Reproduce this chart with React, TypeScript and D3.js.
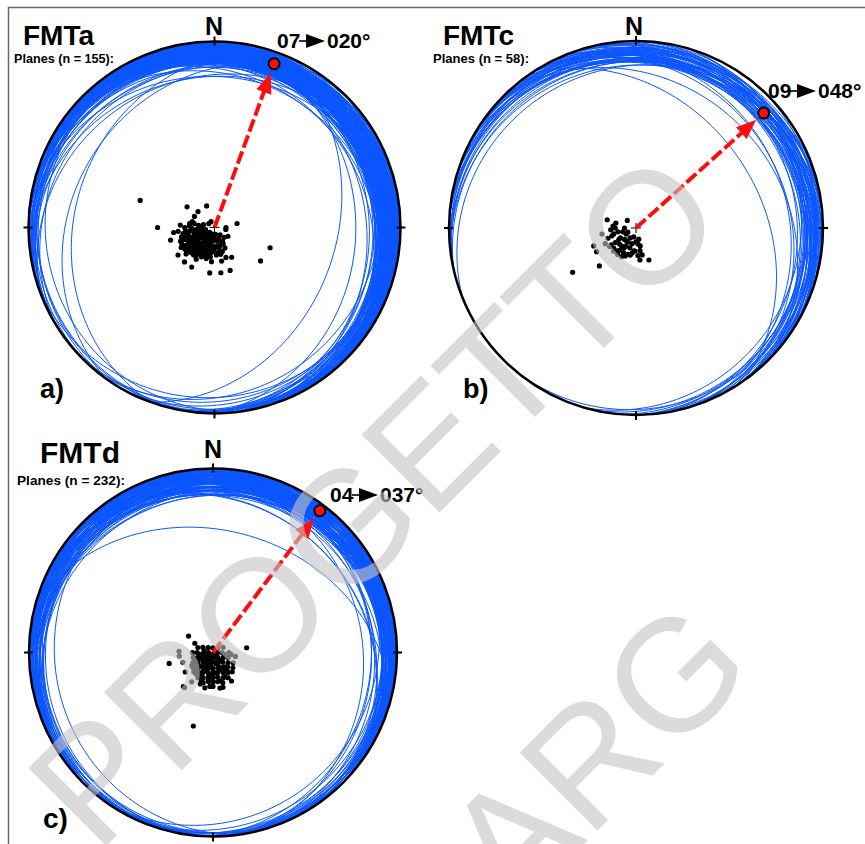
import React from "react";
import * as d3 from "d3";

// planes as [dip direction, dip] read from the pole clouds in each stereonet
const planesA: [number, number][] = [
  [110, 35], [90, 25], [127, 15], [160, 10], [134, 10], [119, 10], [260, 10], [290, 26], [306, 25], [6, 20],
  [352, 20], [340, 20], [30, 20], [41, 20], [5, 15], [348, 15], [339, 14], [330, 15], [83, 18], [74, 20],
  [94, 15], [150, 3], [270, 5], [303, 7], [30, 16], [53, 20],
  [81, 13], [67, 13], [54, 13], [43, 14], [68, 9], [52, 10], [37, 11], [25, 12], [68, 5], [39, 6],
  [21, 7], [10, 10], [18, 3], [0, 5], [354, 8], [351, 11], [323, 4], [330, 7], [333, 10], [94, 11],
  [101, 9], [90, 6], [104, 5], [63, 16], [54, 16], [33, 14], [15, 14], [356, 12], [67, 11], [76, 7],
  [56, 12], [34, 9], [16, 6], [40, 7], [47, 17], [14, 11], [55, 8], [45, 12], [62, 13], [74, 15],
  [342, 8], [315, 6], [280, 5], [76, 4], [39, 12], [81, 11], [20, 13], [32, 13], [6, 9], [342, 11],
  [90, 13], [105, 10], [124, 3], [84, 16],
  [60, 10], [41, 9], [20, 9], [49, 15], [71, 8], [27, 11], [17, 5], [74, 12], [38, 15], [56, 5],
  [98, 7], [59, 17], [348, 6], [11, 12], [88, 10], [56, 6], [58, 15], [45, 10], [55, 11], [29, 8],
  [33, 11], [56, 13], [9, 8], [347, 9], [72, 14], [80, 5], [38, 13], [54, 15], [30, 6], [62, 7],
  [79, 9], [45, 3], [332, 8], [24, 14], [68, 16], [2, 10], [42, 11], [64, 11], [40, 7], [99, 11],
  [84, 8], [37, 4], [47, 15], [29, 9], [8, 6], [36, 15], [68, 14], [28, 13], [20, 10], [48, 13],
  [53, 9], [82, 12], [0, 9], [338, 5], [63, 6], [43, 15], [8, 13], [79, 14], [45, 11], [347, 12],
  [20, 12], [67, 10], [34, 10], [61, 13], [17, 7], [32, 12], [75, 9], [14, 13], [50, 13], [353, 3],
  [48, 6], [50, 16], [37, 12], [7, 11], [64, 12],
];

const planesB: [number, number][] = [
  [106, 13], [104, 9], [131, 5], [353, 14], [338, 15], [80, 15], [67, 20], [59, 20], [63, 15], [44, 14],
  [44, 23], [55, 34], [21, 13], [3, 10], [346, 5], [347, 8],
  [86, 11], [72, 11], [55, 11], [78, 8], [58, 8], [38, 10], [27, 12], [59, 5], [30, 7], [17, 9],
  [9, 11], [14, 4], [353, 7], [350, 10], [48, 13], [35, 14], [74, 6], [45, 7], [29, 9], [90, 9],
  [36, 12], [31, 5], [56, 13], [17, 12], [0, 6], [70, 13], [90, 5], [56, 9], [14, 7], [347, 12],
  [27, 14], [75, 10], [36, 7], [55, 14], [5, 10], [45, 10], [63, 4], [40, 13], [356, 12], [31, 10],
  [12, 12], [95, 10],
];

const planesC: [number, number][] = [
  [124, 13], [117, 9], [262, 15], [76, 20], [15, 34], [92, 15], [84, 15], [72, 14], [55, 15], [41, 20],
  [280, 5], [276, 8], [280, 10], [36, 16], [5, 15], [349, 16], [327, 15], [22, 15], [39, 20],
  [108, 7], [117, 5], [135, 3], [180, 2], [225, 3], [243, 5],
  [90, 9], [90, 7], [90, 4], [90, 2], [270, 2], [270, 4], [270, 7],
  [76, 9], [72, 7], [63, 5], [45, 3], [0, 2], [315, 3], [297, 5], [288, 7],
  [63, 10], [56, 8], [45, 6], [27, 5], [0, 4], [333, 5], [315, 6], [304, 8], [297, 10],
  [53, 11], [45, 9], [34, 8], [18, 7], [0, 7], [342, 7], [326, 8], [315, 9], [307, 11],
  [45, 12], [37, 11], [27, 10], [14, 9], [0, 9], [346, 9], [333, 10], [323, 11], [315, 12],
  [31, 13], [22, 12], [11, 11], [0, 11], [349, 11], [338, 12], [329, 13],
  [18, 14], [9, 13], [0, 13], [351, 13], [342, 14], [0, 15], [13, 16], [344, 16],
  [30, 6], [21, 4], [41, 8], [24, 9], [8, 6], [345, 5], [62, 6], [55, 9], [10, 10], [339, 8],
  [72, 4], [342, 1], [45, 4], [29, 10], [3, 7], [333, 12], [39, 12], [82, 6], [326, 3], [10, 12],
  [312, 5], [43, 10], [11, 4], [22, 12], [337, 7], [42, 5], [67, 9], [354, 9], [22, 14], [21, 8],
  [45, 2], [344, 13], [322, 10], [58, 11], [101, 4], [0, 11], [31, 11], [322, 8], [5, 15], [248, 2],
];

const panelNames = ["FMTa", "FMTc", "FMTd"];
const panelLetters = ["a)", "b)", "c)"];
const planeCounts = [155, 58, 232];
const meanPlunge = [7, 9, 4];
const meanTrend = [20, 48, 37];

const FONT = "'Liberation Sans', Arial, Helvetica, sans-serif";
const BLUE = "#0a55ff";
const RED = "#ff0d0d";

const layout = [
  {
    cx: 214.5, cy: 227.5, R: 186, planes: planesA,
    title: [23, 45, 28], sub: [14, 63, 12.5, 100], north: [214, 35], letter: [40, 398, 27], label: [277, 48],
  },
  {
    cx: 636, cy: 228, R: 187, planes: planesB,
    title: [443, 45, 28], sub: [433, 63, 12.5, 96], north: [634, 35], letter: [463, 398, 27], label: [768, 98],
  },
  {
    cx: 213, cy: 652.5, R: 184, planes: planesC,
    title: [40, 463, 30], sub: [17, 485, 13.5, 108], north: [213, 458], letter: [43, 828, 28], label: [330, 502],
  },
];

const rad = (v: number) => (v * Math.PI) / 180;
const deg = (v: number) => (v * 180) / Math.PI;

function Stereonet({ i }: { i: number }) {
  const p = layout[i];
  const r = d3.scaleLinear().domain([0, 1]).range([0, p.R]);
  // equal-area (Schmidt) lower hemisphere
  const proj = (trend: number, plunge: number): [number, number] => {
    const d = r(Math.SQRT2 * Math.sin(rad(90 - plunge) / 2));
    return [p.cx + d * Math.sin(rad(trend)), p.cy - d * Math.cos(rad(trend))];
  };
  const line = d3.line<[number, number]>();
  const greatCircle = (dd: number, dip: number) => {
    const a = rad(dd), d = rad(dip), s = a - Math.PI / 2;
    const pts = d3.range(0, 180.01, 1.5).map((phi) => {
      const f = rad(phi);
      const n = Math.cos(f) * Math.cos(s) + Math.sin(f) * Math.cos(d) * Math.cos(a);
      const e = Math.cos(f) * Math.sin(s) + Math.sin(f) * Math.cos(d) * Math.sin(a);
      const z = Math.sin(f) * Math.sin(d);
      return proj(deg(Math.atan2(e, n)), deg(Math.asin(Math.min(1, z))));
    });
    return line(pts) || "";
  };

  const [mx, my] = proj(meanTrend[i], meanPlunge[i]);
  const len = Math.hypot(mx - p.cx, my - p.cy);
  const ux = (mx - p.cx) / len, uy = (my - p.cy) / len;
  const tipX = mx - ux * 10, tipY = my - uy * 10;
  const headLen = 20, headW = 8;
  const bx = tipX - ux * headLen, by = tipY - uy * headLen;
  const head = `${tipX},${tipY} ${bx - uy * headW},${by + ux * headW} ${bx + uy * headW},${by - ux * headW}`;

  const [lx, ly] = p.label;
  const ticks = [0, 90, 180, 270];

  return (
    <g>
      <g fill="none" stroke={BLUE} strokeWidth={1}>
        {p.planes.map(([dd, dip], k) => (
          <path key={k} d={greatCircle(dd, dip)} />
        ))}
      </g>
      <circle cx={p.cx} cy={p.cy} r={p.R} fill="none" stroke="#000" strokeWidth={2.5} />
      {ticks.map((t) => {
        const [x1, y1] = [p.cx + (p.R - 4) * Math.sin(rad(t)), p.cy - (p.R - 4) * Math.cos(rad(t))];
        const [x2, y2] = [p.cx + (p.R + 5) * Math.sin(rad(t)), p.cy - (p.R + 5) * Math.cos(rad(t))];
        return <line key={t} x1={x1} y1={y1} x2={x2} y2={y2} stroke="#000" strokeWidth={2} />;
      })}
      <g fill="#000">
        {p.planes.map(([dd, dip], k) => {
          const [x, y] = proj((dd + 180) % 360, 90 - dip);
          return <circle key={k} cx={x} cy={y} r={2.6} />;
        })}
      </g>
      <path d={`M${p.cx - 5},${p.cy}H${p.cx + 5}M${p.cx},${p.cy - 5}V${p.cy + 5}`} stroke="#000" strokeWidth={1} />
      <line x1={p.cx} y1={p.cy} x2={bx + ux * 2} y2={by + uy * 2} stroke={RED} strokeWidth={4} strokeDasharray="13,4" />
      <polygon points={head} fill={RED} />
      <circle cx={mx} cy={my} r={5.5} fill={RED} stroke="#000" strokeWidth={2} />

      <g fontFamily={FONT} fontWeight="bold" fill="#000">
        <text x={p.title[0]} y={p.title[1]} fontSize={p.title[2]}>{panelNames[i]}</text>
        <text x={p.sub[0]} y={p.sub[1]} fontSize={p.sub[2]} textLength={p.sub[3]} lengthAdjust="spacingAndGlyphs">
          {`Planes (n = ${planeCounts[i]}):`}
        </text>
        <text x={p.north[0]} y={p.north[1]} fontSize={25} textAnchor="middle">N</text>
        <text x={p.letter[0]} y={p.letter[1]} fontSize={p.letter[2]}>{panelLetters[i]}</text>
        <text x={lx} y={ly} fontSize={21}>{String(meanPlunge[i]).padStart(2, "0")}</text>
        <line x1={lx + 22} y1={ly - 7} x2={lx + 32} y2={ly - 7} stroke="#000" strokeWidth={1.6} />
        <polygon points={`${lx + 29},${ly - 14} ${lx + 48},${ly - 7} ${lx + 29},${ly}`} />
        <text x={lx + 50} y={ly} fontSize={21}>{`${String(meanTrend[i]).padStart(3, "0")}°`}</text>
      </g>
    </g>
  );
}

export default function App() {
  return (
    <svg width={865} height={844} style={{ position: "absolute", left: 0, top: 0, background: "#fff" }}>
      <rect width={865} height={844} fill="#fff" />
      <path d="M8.5,844V7.5H865" fill="none" stroke="#6b6b6b" strokeWidth={1.5} />
      {[0, 1, 2].map((i) => (
        <Stereonet key={i} i={i} />
      ))}
      <g fontFamily={FONT} fontSize={160} fill="#c4c4c4" opacity={0.6}>
        <text transform="translate(97,855) rotate(-45)">PROGETTO</text>
        <text transform="translate(431,997) rotate(-45)">CARG</text>
      </g>
    </svg>
  );
}
